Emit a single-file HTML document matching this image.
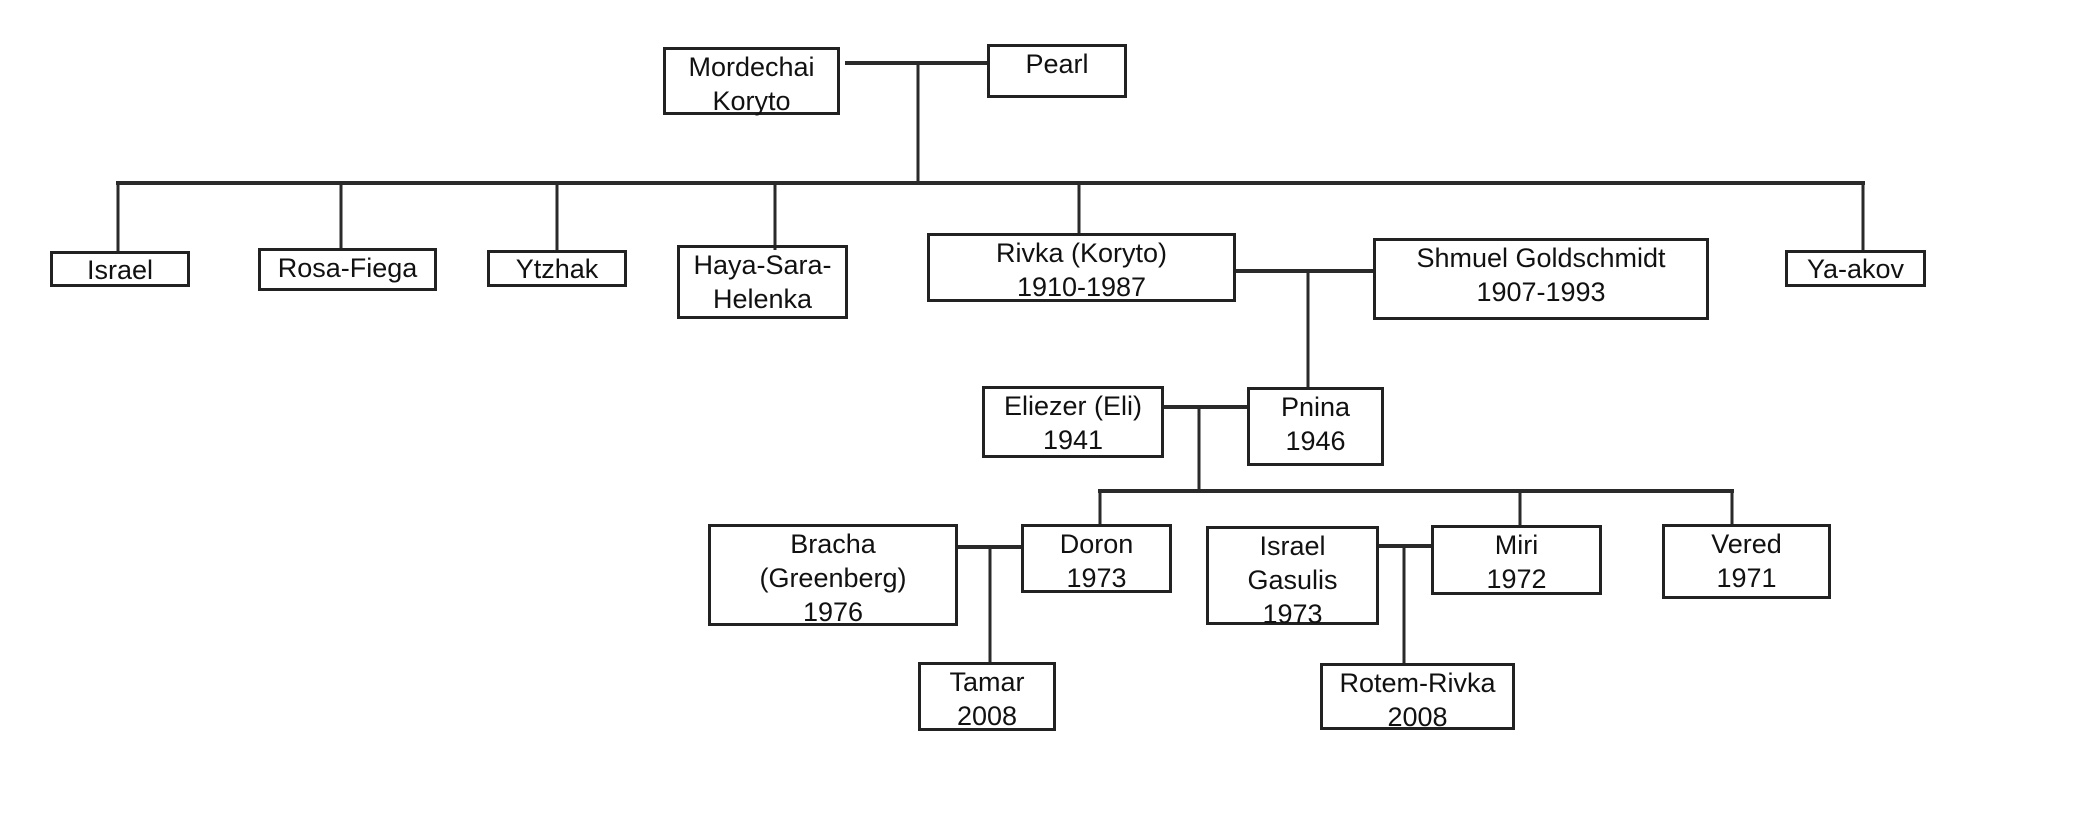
<!DOCTYPE html>
<html><head><meta charset="utf-8"><style>
body{margin:0;background:#fff;}
#c{position:relative;width:2092px;height:832px;overflow:hidden;background:#fff;font-family:"Liberation Sans",sans-serif;}
.b{position:absolute;box-sizing:border-box;border:3px solid #222;text-align:center;font-size:27px;line-height:34px;color:#111;padding-top:0px;white-space:nowrap;}
svg{position:absolute;left:0;top:0;}
</style></head><body><div id="c">
<svg width="2092" height="832" stroke="#2a2a2a" fill="none">
<g stroke-width="4">
<line x1="845" y1="63" x2="987" y2="63"/>
<line x1="116" y1="183" x2="1865" y2="183"/>
<line x1="1236" y1="271" x2="1373" y2="271"/>
<line x1="1164" y1="407" x2="1247" y2="407"/>
<line x1="1098" y1="491" x2="1734" y2="491"/>
<line x1="958" y1="547" x2="1021" y2="547"/>
<line x1="1379" y1="546" x2="1431" y2="546"/>
</g>
<g stroke-width="3">
<line x1="918" y1="63" x2="918" y2="183"/>
<line x1="118" y1="183" x2="118" y2="251"/>
<line x1="341" y1="183" x2="341" y2="248"/>
<line x1="557" y1="183" x2="557" y2="250"/>
<line x1="775" y1="183" x2="775" y2="250"/>
<line x1="1079" y1="183" x2="1079" y2="233"/>
<line x1="1863" y1="183" x2="1863" y2="250"/>
<line x1="1308" y1="271" x2="1308" y2="387"/>
<line x1="1199" y1="407" x2="1199" y2="491"/>
<line x1="1100" y1="491" x2="1100" y2="524"/>
<line x1="1520" y1="491" x2="1520" y2="525"/>
<line x1="1732" y1="491" x2="1732" y2="524"/>
<line x1="990" y1="547" x2="990" y2="662"/>
<line x1="1404" y1="546" x2="1404" y2="663"/>
</g>
</svg>
<div class="b" style="left:663px;top:47px;width:177px;height:68px">Mordechai<br>Koryto</div>
<div class="b" style="left:987px;top:44px;width:140px;height:54px">Pearl</div>
<div class="b" style="left:50px;top:251px;width:140px;height:36px;line-height:32px">Israel</div>
<div class="b" style="left:258px;top:248px;width:179px;height:43px">Rosa-Fiega</div>
<div class="b" style="left:487px;top:250px;width:140px;height:37px;line-height:32px">Ytzhak</div>
<div class="b" style="left:677px;top:245px;width:171px;height:74px">Haya-Sara-<br>Helenka</div>
<div class="b" style="left:927px;top:233px;width:309px;height:69px">Rivka (Koryto)<br>1910-1987</div>
<div class="b" style="left:1373px;top:238px;width:336px;height:82px">Shmuel Goldschmidt<br>1907-1993</div>
<div class="b" style="left:1785px;top:250px;width:141px;height:37px;line-height:32px">Ya-akov</div>
<div class="b" style="left:982px;top:386px;width:182px;height:72px">Eliezer (Eli)<br>1941</div>
<div class="b" style="left:1247px;top:387px;width:137px;height:79px">Pnina<br>1946</div>
<div class="b" style="left:708px;top:524px;width:250px;height:102px">Bracha<br>(Greenberg)<br>1976</div>
<div class="b" style="left:1021px;top:524px;width:151px;height:69px">Doron<br>1973</div>
<div class="b" style="left:1206px;top:526px;width:173px;height:99px">Israel<br>Gasulis<br>1973</div>
<div class="b" style="left:1431px;top:525px;width:171px;height:70px">Miri<br>1972</div>
<div class="b" style="left:1662px;top:524px;width:169px;height:75px">Vered<br>1971</div>
<div class="b" style="left:918px;top:662px;width:138px;height:69px">Tamar<br>2008</div>
<div class="b" style="left:1320px;top:663px;width:195px;height:67px">Rotem-Rivka<br>2008</div>
</div></body></html>
